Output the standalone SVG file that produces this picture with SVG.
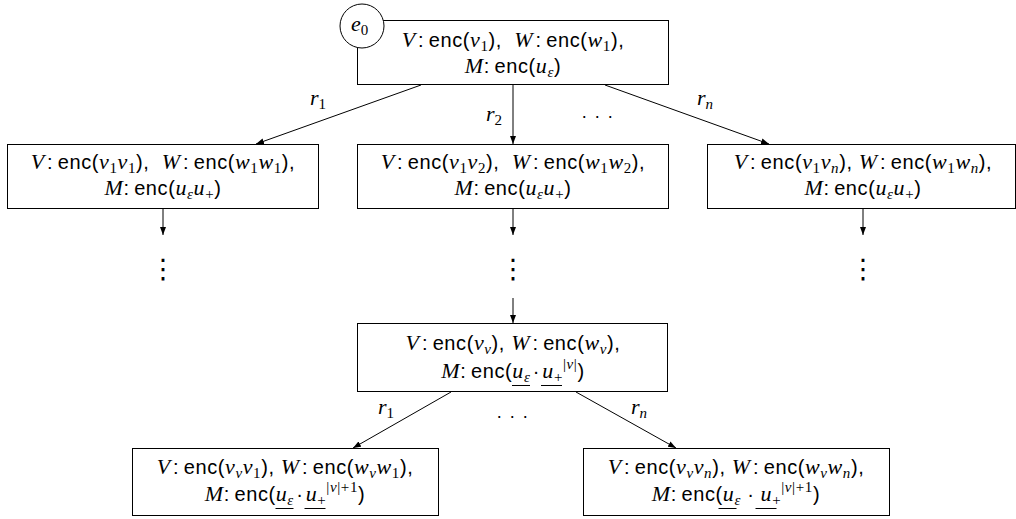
<svg xmlns="http://www.w3.org/2000/svg" width="1016" height="519" viewBox="0 0 1016 519">
<style>
.box { fill: #fff; stroke: #000; stroke-width: 1; }
.ln { fill: none; stroke: #000; stroke-width: 1; }
.t { font-family: "Liberation Sans", Arial, sans-serif; font-size: 20px; fill: #000; text-anchor: middle; letter-spacing: 0.6px; }
.i { font-family: "Liberation Serif", "Times New Roman", serif; font-style: italic; font-size: 22px; }
.sd { font-family: "Liberation Serif", "Times New Roman", serif; font-style: normal; font-size: 15px; }
.si { font-family: "Liberation Serif", "Times New Roman", serif; font-style: italic; font-size: 15px; }
.lab { font-family: "Liberation Serif", "Times New Roman", serif; font-style: italic; font-size: 22px; fill: #000; }
.dots { font-family: "Liberation Sans", Arial, sans-serif; font-size: 18px; fill: #000; text-anchor: middle; letter-spacing: 1.5px; }
.vd { font-family: "DejaVu Sans", sans-serif; font-size: 27px; fill: #000; text-anchor: middle; }
.ul { stroke: #000; stroke-width: 1; }
</style>
<defs>
<marker id="ah" markerWidth="8" markerHeight="6" refX="8" refY="3" orient="auto" markerUnits="userSpaceOnUse">
<path d="M0,0 L8,3 L0,6 z" fill="#000"/>
</marker>
</defs>

<g id="connectors">
<line class="ln" x1="421" y1="85" x2="256" y2="144" marker-end="url(#ah)"/>
<line class="ln" x1="513" y1="85" x2="513" y2="144" marker-end="url(#ah)"/>
<line class="ln" x1="605" y1="85" x2="769" y2="144" marker-end="url(#ah)"/>
<line class="ln" x1="163" y1="209" x2="163" y2="235" marker-end="url(#ah)"/>
<line class="ln" x1="513" y1="209" x2="513" y2="235" marker-end="url(#ah)"/>
<line class="ln" x1="863" y1="209" x2="863" y2="235" marker-end="url(#ah)"/>
<line class="ln" x1="513" y1="298" x2="513" y2="323" marker-end="url(#ah)"/>
<line class="ln" x1="451" y1="392" x2="353" y2="448" marker-end="url(#ah)"/>
<line class="ln" x1="576" y1="392" x2="676" y2="448" marker-end="url(#ah)"/>
<text class="lab" x="310" y="105">r<tspan class="sd" dy="4">1</tspan></text>
<text class="lab" x="486" y="121">r<tspan class="sd" dy="4">2</tspan></text>
<text class="dots" x="598" y="118">. . .</text>
<text class="lab" x="697" y="105">r<tspan class="si" dy="4">n</tspan></text>
<text class="vd" x="163" y="278">⋮</text>
<text class="vd" x="513" y="278">⋮</text>
<text class="vd" x="863" y="278">⋮</text>
<text class="lab" x="378" y="414">r<tspan class="sd" dy="4">1</tspan></text>
<text class="dots" x="513" y="418">. . .</text>
<text class="lab" x="631" y="414">r<tspan class="si" dy="4">n</tspan></text>
</g>

<g id="root">
<rect class="box" x="357.5" y="20.5" width="311" height="64"/>
<text class="t" x="513" y="47"><tspan class="i">V</tspan>&#8202;:&#8201;enc(<tspan class="i">v</tspan><tspan class="sd" dy="4">1</tspan><tspan dy="-4">),&#160;&#160;</tspan><tspan class="i">W</tspan>&#8202;:&#8201;enc(<tspan class="i">w</tspan><tspan class="sd" dy="4">1</tspan><tspan dy="-4">),</tspan></text>
<text class="t" x="513" y="73"><tspan class="i">M</tspan>:&#8201;enc(<tspan class="i">u</tspan><tspan class="si" dy="4">ε</tspan><tspan dy="-4">)</tspan></text>
</g>

<g id="e0">
<circle class="box" cx="362" cy="26" r="22"/>
<text class="lab" x="351" y="31">e<tspan class="sd" dy="4">0</tspan></text>
</g>

<g id="child1">
<rect class="box" x="7.5" y="144.5" width="311" height="64"/>
<text class="t" x="163" y="169"><tspan class="i">V</tspan>&#8202;:&#8201;enc(<tspan class="i">v</tspan><tspan class="sd" dy="4">1</tspan><tspan class="i" dy="-4">v</tspan><tspan class="sd" dy="4">1</tspan><tspan dy="-4">),&#160;&#160;</tspan><tspan class="i">W</tspan>&#8202;:&#8201;enc(<tspan class="i">w</tspan><tspan class="sd" dy="4">1</tspan><tspan class="i" dy="-4">w</tspan><tspan class="sd" dy="4">1</tspan><tspan dy="-4">),</tspan></text>
<text class="t" x="163" y="195"><tspan class="i">M</tspan>:&#8201;enc(<tspan class="i">u</tspan><tspan class="si" dy="4">ε</tspan><tspan class="i" dy="-4">u</tspan><tspan class="sd" dy="4">+</tspan><tspan dy="-4">)</tspan></text>
</g>

<g id="child2">
<rect class="box" x="357.5" y="144.5" width="311" height="64"/>
<text class="t" x="513" y="169"><tspan class="i">V</tspan>&#8202;:&#8201;enc(<tspan class="i">v</tspan><tspan class="sd" dy="4">1</tspan><tspan class="i" dy="-4">v</tspan><tspan class="sd" dy="4">2</tspan><tspan dy="-4">),&#160;&#160;</tspan><tspan class="i">W</tspan>&#8202;:&#8201;enc(<tspan class="i">w</tspan><tspan class="sd" dy="4">1</tspan><tspan class="i" dy="-4">w</tspan><tspan class="sd" dy="4">2</tspan><tspan dy="-4">),</tspan></text>
<text class="t" x="513" y="195"><tspan class="i">M</tspan>:&#8201;enc(<tspan class="i">u</tspan><tspan class="si" dy="4">ε</tspan><tspan class="i" dy="-4">u</tspan><tspan class="sd" dy="4">+</tspan><tspan dy="-4">)</tspan></text>
</g>

<g id="childn">
<rect class="box" x="707.5" y="144.5" width="308" height="64"/>
<text class="t" x="863" y="169"><tspan class="i">V</tspan>&#8202;:&#8201;enc(<tspan class="i">v</tspan><tspan class="sd" dy="4">1</tspan><tspan class="i" dy="-4">v</tspan><tspan class="si" dy="4">n</tspan><tspan dy="-4">),&#160;</tspan><tspan class="i">W</tspan>&#8202;:&#8201;enc(<tspan class="i">w</tspan><tspan class="sd" dy="4">1</tspan><tspan class="i" dy="-4">w</tspan><tspan class="si" dy="4">n</tspan><tspan dy="-4">),</tspan></text>
<text class="t" x="863" y="195"><tspan class="i">M</tspan>:&#8201;enc(<tspan class="i">u</tspan><tspan class="si" dy="4">ε</tspan><tspan class="i" dy="-4">u</tspan><tspan class="sd" dy="4">+</tspan><tspan dy="-4">)</tspan></text>
</g>

<g id="nodenu">
<rect class="box" x="357.5" y="323.5" width="310" height="68"/>
<text class="t" x="513" y="350"><tspan class="i">V</tspan>&#8202;:&#8201;enc(<tspan class="i">v</tspan><tspan class="si" dy="4">ν</tspan><tspan dy="-4">),&#160;</tspan><tspan class="i">W</tspan>&#8202;:&#8201;enc(<tspan class="i">w</tspan><tspan class="si" dy="4">ν</tspan><tspan dy="-4">),</tspan></text>
<text class="t" x="513" y="378"><tspan class="i">M</tspan>:&#8201;enc(<tspan class="i">u</tspan><tspan class="si" dy="4">ε</tspan><tspan dy="-4">&#8202;·&#8202;</tspan><tspan class="i">u</tspan><tspan class="sd" dy="4">+</tspan><tspan class="sd" dy="-13">|</tspan><tspan class="si">ν</tspan><tspan class="sd">|</tspan><tspan dy="9">)</tspan></text>
<line class="ul" x1="512" y1="385.5" x2="530" y2="385.5"/>
<line class="ul" x1="541" y1="385.5" x2="562" y2="385.5"/>
</g>

<g id="nodenu1">
<rect class="box" x="132.5" y="448.5" width="306" height="67"/>
<text class="t" x="285" y="474"><tspan class="i">V</tspan>&#8202;:&#8201;enc(<tspan class="i">v</tspan><tspan class="si" dy="4">ν</tspan><tspan class="i" dy="-4">v</tspan><tspan class="sd" dy="4">1</tspan><tspan dy="-4">),&#160;</tspan><tspan class="i">W</tspan>&#8202;:&#8201;enc(<tspan class="i">w</tspan><tspan class="si" dy="4">ν</tspan><tspan class="i" dy="-4">w</tspan><tspan class="sd" dy="4">1</tspan><tspan dy="-4">),</tspan></text>
<text class="t" x="285" y="501"><tspan class="i">M</tspan>:&#8201;enc(<tspan class="i">u</tspan><tspan class="si" dy="4">ε</tspan><tspan dy="-4">&#8202;·&#8202;</tspan><tspan class="i">u</tspan><tspan class="sd" dy="4">+</tspan><tspan class="sd" dy="-13">|</tspan><tspan class="si">ν</tspan><tspan class="sd">|+1</tspan><tspan dy="9">)</tspan></text>
<line class="ul" x1="275.5" y1="508.5" x2="293.5" y2="508.5"/>
<line class="ul" x1="304.5" y1="508.5" x2="325.5" y2="508.5"/>
</g>

<g id="nodenun">
<rect class="box" x="583.5" y="448.5" width="306" height="67"/>
<text class="t" x="736" y="474"><tspan class="i">V</tspan>&#8202;:&#8201;enc(<tspan class="i">v</tspan><tspan class="si" dy="4">ν</tspan><tspan class="i" dy="-4">v</tspan><tspan class="si" dy="4">n</tspan><tspan dy="-4">),&#160;</tspan><tspan class="i">W</tspan>&#8202;:&#8201;enc(<tspan class="i">w</tspan><tspan class="si" dy="4">ν</tspan><tspan class="i" dy="-4">w</tspan><tspan class="si" dy="4">n</tspan><tspan dy="-4">),</tspan></text>
<text class="t" x="736" y="501"><tspan class="i">M</tspan>:&#8201;enc(<tspan class="i">u</tspan><tspan class="si" dy="4">ε</tspan><tspan dy="-4">&#160;·&#160;</tspan><tspan class="i">u</tspan><tspan class="sd" dy="4">+</tspan><tspan class="sd" dy="-13">|</tspan><tspan class="si">ν</tspan><tspan class="sd">|+1</tspan><tspan dy="9">)</tspan></text>
<line class="ul" x1="718.5" y1="508.5" x2="736.5" y2="508.5"/>
<line class="ul" x1="755.5" y1="508.5" x2="776.5" y2="508.5"/>
</g>
</svg>
